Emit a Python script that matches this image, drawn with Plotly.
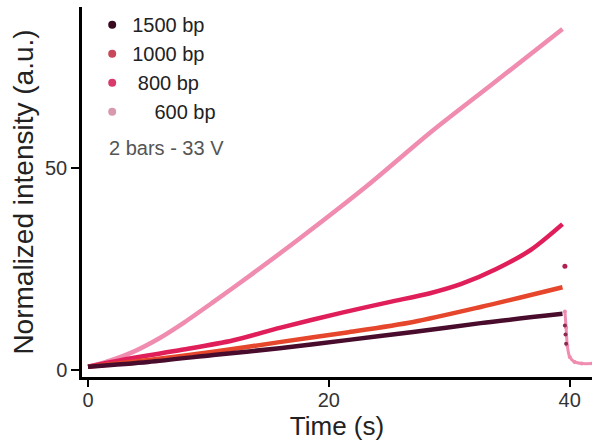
import plotly.graph_objects as go

# ---- data ----
series_names = ["1500 bp", "1000 bp", "800 bp", "600 bp"]
legend_labels = ["1500 bp", "1000 bp", "\u00a0800 bp", "\u00a0\u00a0\u00a0\u00a0600 bp"]
line_colors = ["#4a0c2c", "#e6462c", "#e01e5a", "#f08cb0"]
legend_colors = ["#3a0a20", "#c8485a", "#d83a6a", "#d898b0"]

t_1500 = [0, 5, 10.4, 15.9, 21.5, 27.0, 32.6, 39.4]
y_1500 = [0.8, 2.0, 3.7, 5.4, 7.4, 9.4, 11.6, 13.9]

t_1000 = [0, 5, 10.4, 15.9, 21.5, 27.0, 32.6, 39.4]
y_1000 = [0.8, 2.5, 4.5, 6.9, 9.3, 11.9, 15.6, 20.5]

t_800 = [0, 3.6, 7.8, 12.0, 16.0, 21.1, 25.0, 28.4, 31.0, 33.9, 36.8, 39.4]
y_800 = [0.8, 2.9, 5.0, 7.3, 10.5, 14.2, 16.8, 19.0, 21.3, 25.0, 29.8, 36.1]

t_600 = [0, 1.5, 3.6, 6, 8, 10.3, 13.5, 17.6, 23.1, 28.6, 33.5, 39.4]
y_600 = [0.8, 2.0, 4.3, 8.0, 11.8, 16.6, 23.5, 32.6, 45.4, 59.2, 70.6, 84.4]

# points after the run ends (drop back to baseline)
drop_t_800 = [39.6]
drop_y_800 = [25.7]
drop_t_1500 = [39.6, 39.65, 39.7]
drop_y_1500 = [11.0, 8.8, 6.5]
tail_t_600 = [39.6, 39.7, 39.8, 40.0, 40.4, 41.0, 41.9]
tail_y_600 = [14.5, 10.5, 6.0, 3.2, 2.0, 1.6, 1.6]

x_ticks = [0, 20, 40]
y_ticks = [0, 50]

fig = go.Figure()

series_t = [t_1500, t_1000, t_800, t_600]
series_y = [y_1500, y_1000, y_800, y_600]

# draw 600 first so darker curves sit on top
for i in [3, 2, 1, 0]:
    fig.add_trace(go.Scatter(
        x=series_t[i], y=series_y[i], mode="lines",
        line=dict(color=line_colors[i], width=4.5, shape="spline", smoothing=0.8),
        showlegend=False, hoverinfo="skip"))

fig.add_trace(go.Scatter(x=tail_t_600, y=tail_y_600, mode="lines+markers",
                         line=dict(color=line_colors[3], width=3, shape="spline", smoothing=0.6),
                         marker=dict(size=4, color=line_colors[3]),
                         showlegend=False, hoverinfo="skip"))
fig.add_trace(go.Scatter(x=drop_t_800, y=drop_y_800, mode="markers",
                         marker=dict(size=5, color="#b02050"),
                         showlegend=False, hoverinfo="skip"))
fig.add_trace(go.Scatter(x=drop_t_1500, y=drop_y_1500, mode="markers",
                         marker=dict(size=4, color="#8a2a50"),
                         showlegend=False, hoverinfo="skip"))

# legend entries (dot only)
for i in range(4):
    fig.add_trace(go.Scatter(
        x=[None], y=[None], mode="markers", name=legend_labels[i],
        marker=dict(size=8, color=legend_colors[i]), showlegend=True))

fig.add_annotation(text="2 bars - 33 V", xref="paper", yref="paper",
                   x=0.049, y=0.618, xanchor="left", yanchor="middle",
                   showarrow=False, font=dict(size=20, color="#555555",
                                              family="Liberation Sans, Arial, sans-serif"))

fig.update_layout(
    width=592, height=445,
    margin=dict(l=82, r=0, t=7, b=68),
    paper_bgcolor="white", plot_bgcolor="white",
    font=dict(family="Liberation Sans, Arial, sans-serif", color="#222222"),
    legend=dict(x=0.02, y=1.005, xanchor="left", yanchor="top",
                font=dict(size=20, color="#222222"),
                itemwidth=30, bgcolor="rgba(0,0,0,0)", tracegroupgap=0),
    xaxis=dict(range=[-0.5, 41.85], tickvals=x_ticks, showgrid=False, zeroline=False,
               showline=True, linecolor="black", linewidth=2.5,
               ticks="outside", ticklen=7, tickwidth=2, tickcolor="black",
               ticklabelstandoff=-4,
               tickfont=dict(size=20, color="#333333"),
               title=dict(text="Time (s)", font=dict(size=26, color="#222222"), standoff=0)),
    yaxis=dict(range=[-1.73, 89.85], tickvals=y_ticks, showgrid=False, zeroline=False,
               showline=True, linecolor="black", linewidth=2.5,
               ticks="outside", ticklen=8, tickwidth=2, tickcolor="black",
               tickfont=dict(size=20, color="#333333"),
               title=dict(text="Normalized intensity (a.u.)", font=dict(size=28, color="#222222"),
                          standoff=4)),
)

fig.write_html("out.html")
